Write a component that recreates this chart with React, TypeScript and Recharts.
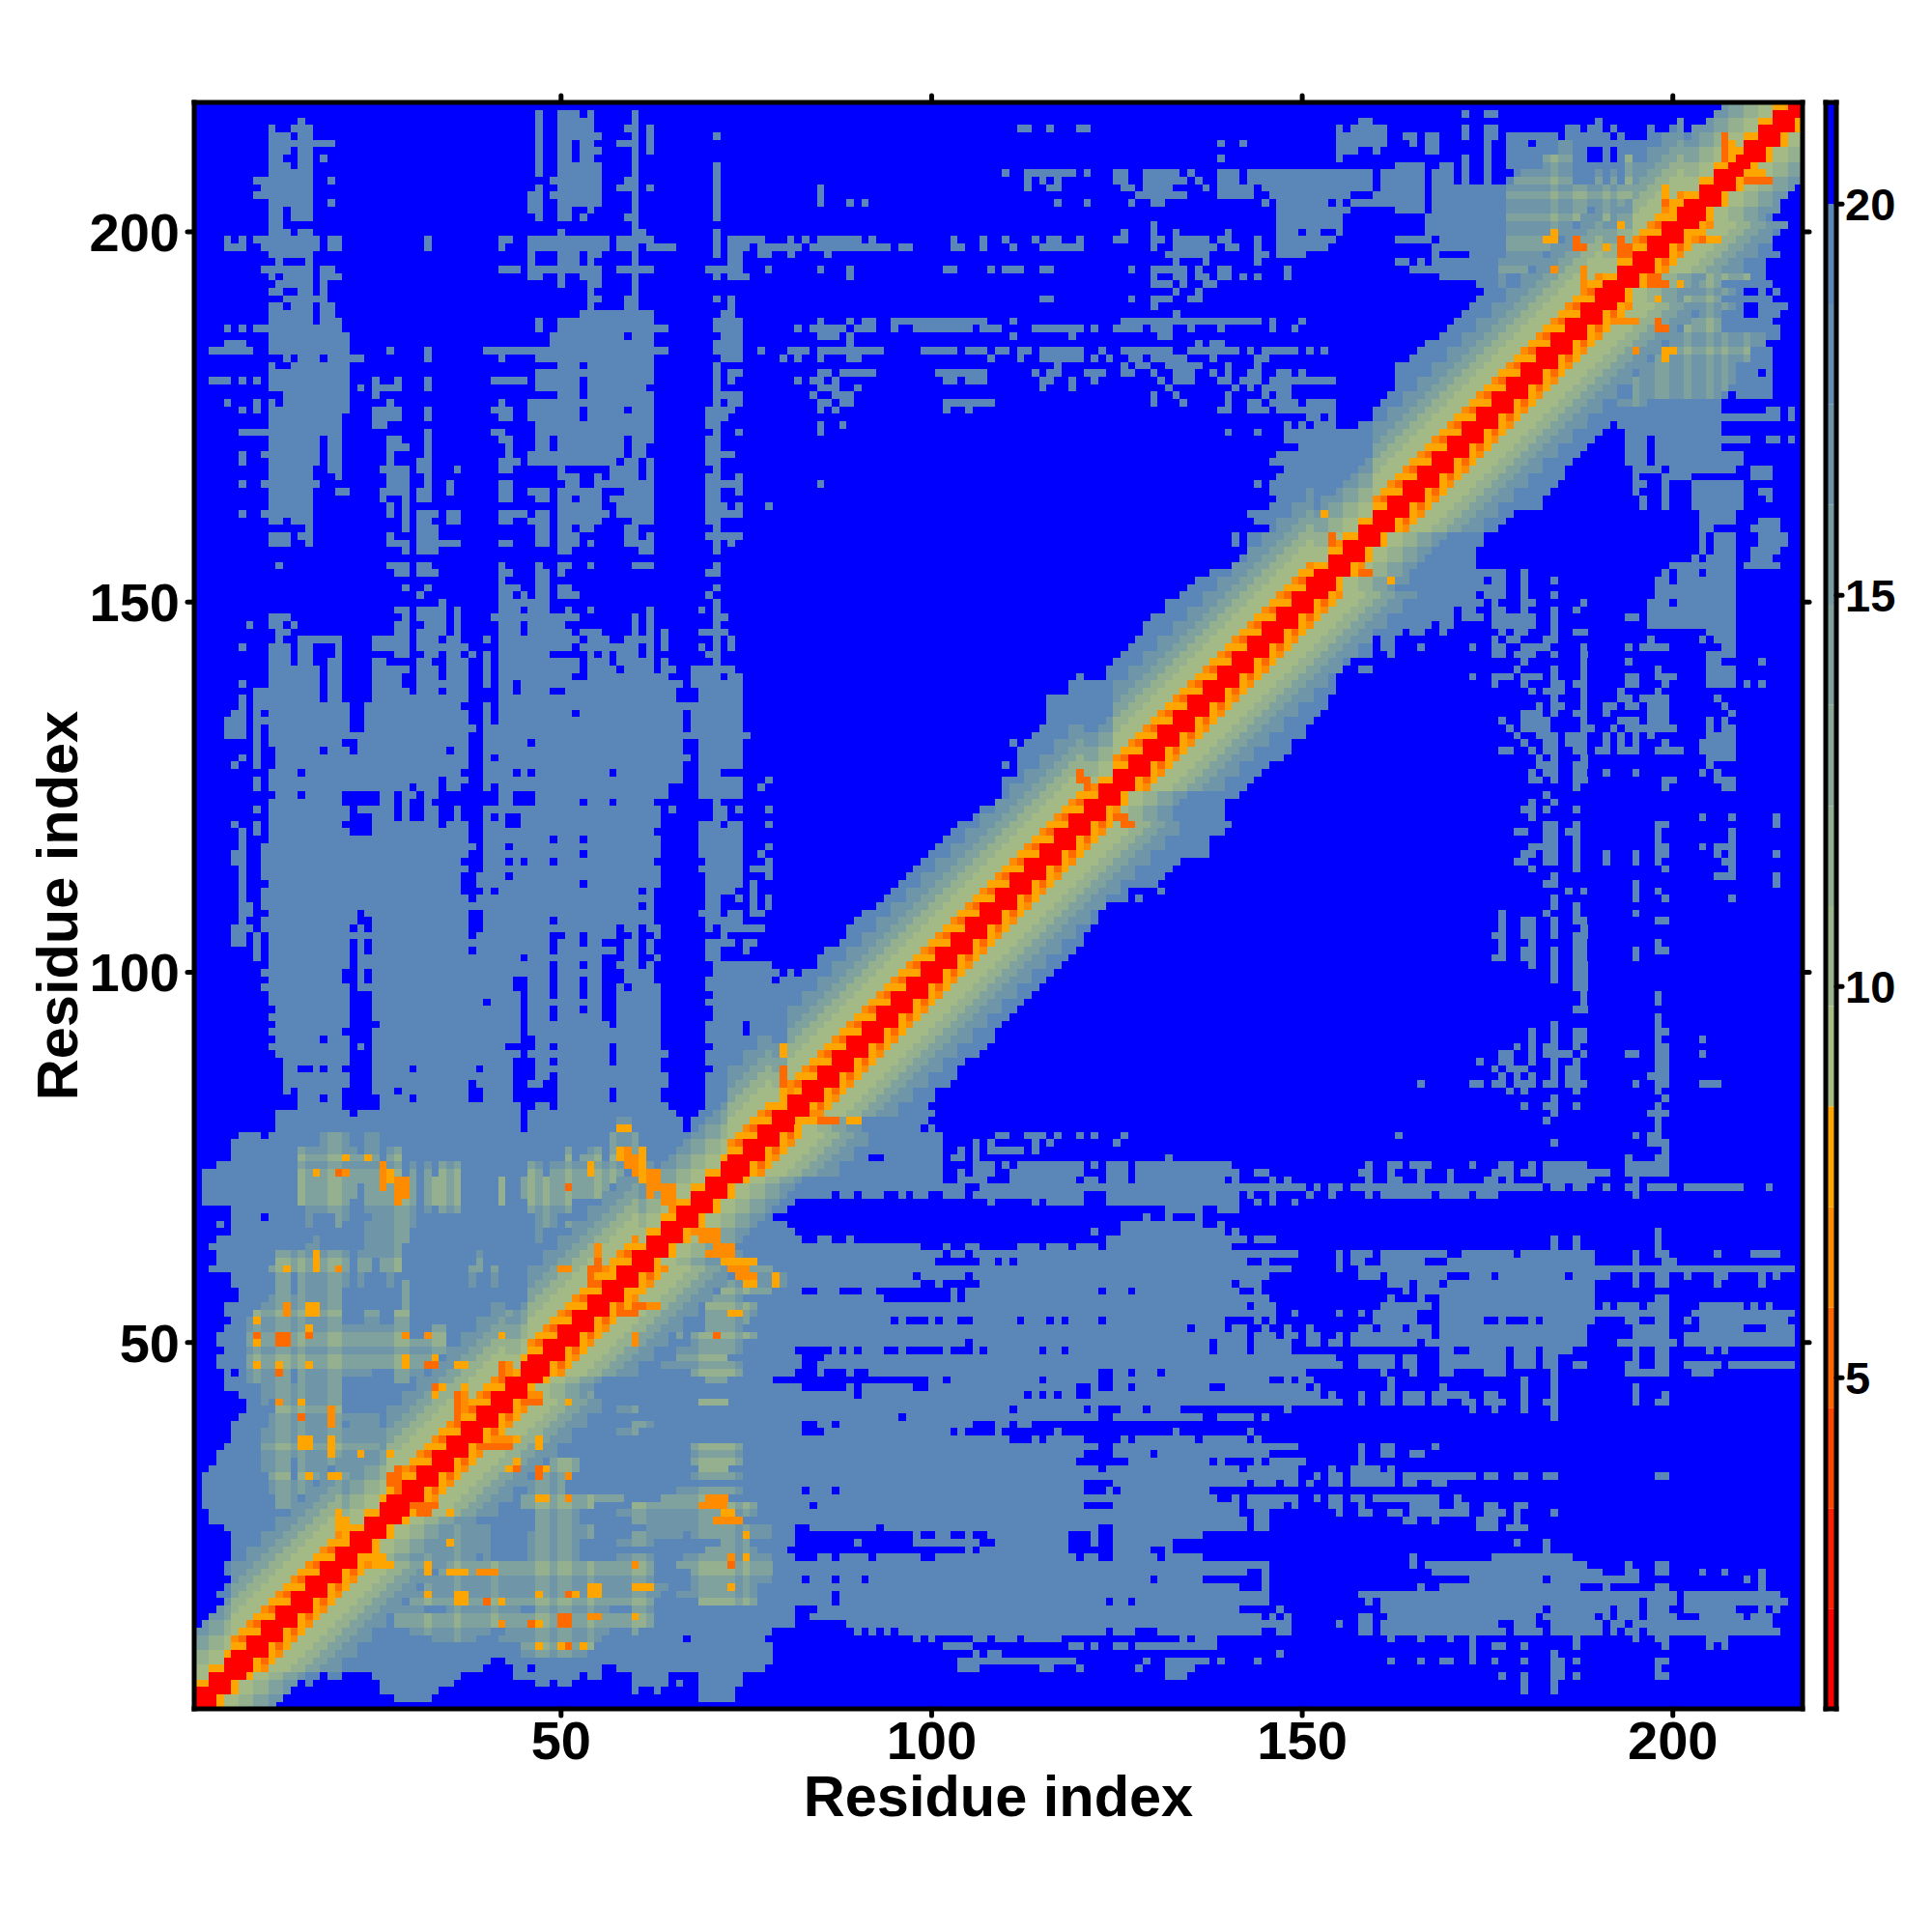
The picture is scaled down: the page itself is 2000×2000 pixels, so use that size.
import { Bar, BarChart, Scatter, ScatterChart, XAxis, YAxis } from "recharts";

const FONT = '"Liberation Sans", Arial, sans-serif';
const RESIDUES = 217;
const CELL = 1664.5 / RESIDUES;

const axisTicks = [50, 100, 150, 200];
const colorbarTicks = [5, 10, 15, 20];

// 0 red .. 3 amber, 4..7 green fading to blue-grey, 8 steel, 9 blue (over 20)
const levelColors = ["#ff0000", "#ff6a00", "#ff8c00", "#ffa500", "#a3ba87", "#95b08f", "#7fa29f", "#6e96a8", "#5b86b8", "#0000ff"];

const colorbarEdges = [0.77, 2.05, 3.33, 4.62, 5.9, 7.18, 8.47, 9.75, 11.03, 12.31, 13.6, 14.88, 16.16, 17.44, 18.72, 20, 21.3];
const colorbarColors = ["#ff0000", "#ff2000", "#ff4500", "#ff6600", "#ff8c00", "#ffa500", "#a5bc85", "#9bb58b", "#92ae91", "#89a897", "#80a19d", "#779aa3", "#6e93a9", "#658daf", "#5c86b5", "#0000ff"];

// profile of a row, going right from the diagonal
const bandProfiles: Record<string, string> = {
  A: "000324445566777",
  B: "003134445566778",
  C: "00034455667",
  D: "00344556677",
};
const bandKinds = [
  "CDCDC", "ABABABABABABABA", "DCDCDC", "ABABABABABABABAB", "CDC", "ABABABABABABABA",
  "DCDCDCDCDCDC", "ABABAB", "CD", "ABABABABABABABABABABABABABABABABABABABAB", "CDCD",
  "ABABABABABABABABABABABABABA", "CDCDCDCD", "ABABABABABABABABABABABABABABABA", "CDCD", "ABABABA", "CDCDCDCDCDCDCDCD",
];

// steel cells per row (x >= row), the matrix is symmetric
const steelRuns = [
  "1-6", "2-7,28-32,69-73", "3-8,26-33,60,63,69-73,180,184", "4-13,16,26-35,47-48,50-51,60-64,66,69-74,180,184",
  "5-14,16-17,19-20,25-36,44-52,54-55,60-64,69-74,132-134,177,180,184-185,187,198-199",
  "6-39,44-45,47-55,58-77,104-106,115-116,120,128,132-135,184-185,198",
  "7-40,43-78,104-119,129,132-137,139,144,162,166,169-170,173,176,180,184-185,187,198-199",
  "8-78,106,108-109,147,173,184",
  "9-78,102-105,119-120,122,125-126,128-138,173,176-177,180,187,199,205,207",
  "10-66,68-77,98,100,106-107,109-111,113-117,134,136-138,162,166,170,173,187,195,198-199,205-207",
  "11-78,90,92,94,96-123,125-127,131-144,147-148,158-159,161-177,179-182,184-190,192,194-195,197-214",
  "12-81,89-148,155,158-159,161-176,179-181,184-190,192-193,195-213",
  "13-81,84-144,146,148,158-159,162-181,183-189,191,193-195,197-200,204-209,211-213",
  "14-81,85-141,147,161-182,184-191,193-195,197-199,202-208,212,214",
  "15-86,88-123,125-126,128-145,159,161-195,197-200,202-215",
  "16-86,88-145,158-200,202-214",
  "17-141,145,166,169-187,191,198-199,212",
  "18-82,84-86,88-90,92-129,131-136,145,173-182,184-195,210,212",
  "19-142,145,168-190,194-195,198-199,204,207,212",
  "20-145,165,167-188,194,198-199",
  "21-81,85-86,88-91,93-98,101-119,121-122,125-130,132-136,165,176-186",
  "22-80,105,107-118,125-129,132,183",
  "23-81,90,98-106,109-118,122,125-132,179,183",
  "24-81,98,101-102,105,108-118,122,125-136",
  "25-81,84-92,94-122,125-142,144-145,174-176,178-180",
  "26-142,144-145,164-165,168,174-176,179",
  "27-141,144-145,155,158-159,162-163,165-172,175-177,179,184",
  "28-83,85-120,125-141,143-147,149,154-155,158,165-168,171-172,175-176,179-180",
  "29-138,141,143-149,152,154-155,157-158,160-168,171",
  "30-82,84-86,88-120,124,126-137",
  "31-120,125-142,144-146,148-149,151,154-155,157-162,164-165,168-169",
  "32-149,152,154-155,157-162,164-173,175-176,179-180,183-184,198-199",
  "33-122,124-141,143-149,154,157-160,162",
  "34-119,127-137,139,144,146-150,158",
  "35-120,125-129,131-145,158,161-162,165-166",
  "36-122,125-149,158,161-162,168",
  "37-110,114,116-120,126,128-135,137-142,144",
  "38-82,86-102,104,109,117,133,143",
  "39-82,85-86,88-105,109-110,112-113",
  "40-95,97-122,125-136,139-143,145,184",
  "41-110,112-120,122,126-128,130-133,148,173,176,180,184",
  "42-155,158,161-162,164-166,168-169,172-173,175-177,180,183-184,195,198-199",
  "43-89,91-112,114,116,118-119,122-152,154,158,161-162,164-166,168-172,175-176,180,184,195,199",
  "44-82,89,91-97,100-119,122,125-126,128-137,140-150,152,162,169,180,184,195",
  "45-78,100-101,103-114,116-122,125-145,148,150-151,162,180,184",
  "46-81,85,89,92-122,125-126,128-130,132-150,161,165,169-170,175-177,184,194-199,203-205",
  "47-82,85-155,158-162,164-165,169-177,179-181,183-184,187-188,194-195,198-199,202-206,208-216",
  "48-82,86-154,158-162,164-165,169-177,179-181,183-184,195,198-199",
  "49-81,87,89,91-93,96,102,106,108-114,116-117,119-137,139-142,144-148,169-170,173-177,179-181,183-186,195,198-199,205,207",
  "50-104,106-137,139-142,144-148,151-152,154-155,157-165,167-188,193-200,202-216",
  "51-142,144-146,148-149,151-152,155,157-167,169-188,195-199,202-216",
  "52-134,136-139,141-142,145,148,151,158-159,161-163,165-167,169-188,195-199,204-209,213-216",
  "53-94,96,100,102-103,106-111,113-115,117,119-122,124-139,144,146,160-165,169-174,177,181,183-189,194-195,198-199,202,204-215",
  "54-146,149,155,158,160-165,169-199,203-216",
  "55-142,144-146,161-167,169-189,191,193-195,197-199,204-209,211,213",
  "56-93,103,105-145,162,166,169-189,198-199",
  "57-82,85-87,91-92,103,105-122,124-126,128-141,144,164,166-189",
  "58-98,101,107-140,142-144,162-164,166-168,170-189,195,198-199,206,212",
  "59-97,99-104,106-145,158-160,162-169,173-175,177-185,187-191,195,198-199,202,206-207,212,214",
  "60-148,155,158-216",
  "61-100,107-108,110,112-142,145,155,157-158,161-166,170-189,195,199-200",
  "62-101,103-104,106-149,155,157-159,161-169,172-178,180-189,195,198-199,206,211-214",
  "63-98,102,105-106,112-114,116-118,120-122,124-140,184,187,198",
  "64-82,85-86,89,124-142,144-146,184,187,198",
  "65-81,122,126-139,141,198",
  "66-80,126-136,139",
  "67-78,129,132,136",
  "68-80,132-136,139-141",
  "69-81,108,114,116-120,124-141,144,146,149",
  "70-86,88-89,91-93,96,98-99,102-104,106-120,124-141,143,146,151,154,159,161-167,169-172,174-176,195",
  "71-104,107-150,152,154-155,157-182,184-185,187-188,191,194-195,197-200,202-209,213",
  "72-101,104-107,111-119,121-122,124-126,128-139,141,146,148,159,162-163,166,170,175-176,178,183-189,195",
  "73-101,104,106-108,111-120,124-126,128-141,144-145,158-159,162,166,170,176-178,180-181,183-191,194-199",
  "74-101,106-108,110,112-120,122,124-126,128-140,159,162-163,165-167,173,177-178,181,183-188,194-199",
  "75-88,90-91,94-101,103-104,106,132,194,198-199",
  "76-101,104,106,108-112,114,199",
  "77-101,106,108,114,116,125,184,197-199",
  "78-101,109-110,113-115,117,120,122,126,163,195,197-198",
  "79-98,100,198", "80-99,183,198", "81-100,184,197-199", "82-99,180,183-184,187,198", "83-100,184,199", "84-100,178,180,187,198",
  "85-102,166,173-174,176-177,179-181,183-184,186-188,195,198-199,204-206",
  "86-103,177,179,181,184,186-187,197-199",
  "87-103,176,178-180,184,186-187,198-199",
  "88-104,174,177-178,181,184,187,198-199",
  "89-106,177-178,181,183-186,188,194-195,198-199,204",
  "90-107,179,181,183-184,187,198-199",
  "91-108,181,184,187-188,198,204",
  "92-108,181,184,187-188,198-199",
  "93-109,184,198", "94-110,198", "95-111,187-188", "96-112,188,198", "97-113,188,198", "98-114,187-188",
  "99-115,184,187-188", "100-116,184,187-188", "101-117,181,184,187-188",
  "102-118,176-177,180-181,184,187-188,195",
  "103-119,177,180-181,184,187-188,195,198-199",
  "104-120,177,181,187-188,198",
  "105-120,176-177,180-181,184,187-188",
  "106-121,177,180-181,184,188",
  "107-122,177,180-181,184,187-188,198-199",
  "108-122,177,183,187,195", "109-122,184,187",
  "110-126,128,184,195,199,208", "111-126,131,186,188,195,198", "112-130,183-184,195,214", "113-131,184,206-208,214",
  "114-132,181,187,199,208",
  "115-133,179-180,183-184,187,191,195,198,207-208",
  "116-137,180-181,183-184,187,191,195,198-199,206,208,214",
  "117-137,181-184,187,198-199,204,206-208",
  "118-137,183-184,187,198,208",
  "119-139,179-180,183-184,186-187,198,208",
  "120-140,183-184,187,198-199,214",
  "121-139,181,204,208,214", "122-139,180-181,183,187", "123-139,181,184", "124-141,183", "125-142,187,199,207-208",
  "126-143,181-182,184,187-188,199-200,206-208",
  "127-144,181,183-184,187-188,191,195,204,206",
  "128-145,182-184,187-188,205",
  "129-147,182,184,188,205-208",
  "130-148,177-178,181,183-184,187-188,190-191,193-195,198-201,204-208",
  "131-148,180,183-184,186-188,191,193,195,199,204-208",
  "132-150,179,182-184,186-188,191,193,195,197,205-208",
  "133-150,178,180-183,188-189,192,194-200,205,207-208",
  "134-151,177,180-183,188,193-195,197-199,205,207",
  "135-152,180-182,184,187-188,191,197-199,208",
  "136-153,182,184-185,188,191-192,194-195,197-199,207",
  "137-153,184,188,193-194,196-199,206",
  "138-154,181,183-185,188,193,198",
  "139-154,176,180,184-185,187-188,194-195,199,205-208,210,212",
  "140-154,173,176-178,180-182,184,188,194-195,198-200,205-208",
  "141-154,158-159,179,184,188,198,205-208",
  "142-154,180,188,194,205-206,212",
  "143-155,158-159,162,176-177,179-181,184,188,205-208",
  "144-159,161-162,166,173,176-177,180-183,188,194,196-199,207-208",
  "145-159,161-162,176,178-179,183-184,197,204,206-208",
  "146-163,165-166,169,177,179-180,184,187-188,205-208",
  "147-167,169-170,176-181,184,197-208",
  "148-170,172-174,176-181,184,194-195,197-208",
  "149-170,172-173,176-177,180,184,187,197-208",
  "150-174,176,180-181,188,197-199,201-208",
  "151-173,175-177,180,184,198-208",
  "152-177,180,198-208",
  "153-174,176-177,180,184,198-199,201-208",
  "154-177,180,199,201-203,205-208",
  "155-173,200-208,210-214",
  "156-173,203,205-208,211-213",
  "157-173,204,206-208,211-214",
  "158-174,204,206-208,212-215",
  "159-174,204,206-208,212-215",
  "160-176,204-205,211-214",
  "161-177,204-208,212-214",
  "162-178,204-208",
  "163-182,196,199,203-209",
  "164-182,196,199,203-209,213",
  "165-183,195,199,203-209,212-213",
  "166-184,195-196,199,203-209",
  "167-185,195,199-202,211-213",
  "168-185,195-198,200-208,211-213",
  "169-186,194-196,198-209",
  "170-187,194-196,198-209",
  "171-188,194-196,198-206",
  "172-189,194-196,198-210,213-214,216",
  "173-190,194-206", "174-191,193-206", "175-214,216", "176-206,213-214,216", "177-206",
  "178-207,209-213", "179-206,208-213", "180-206,209-213", "181-207,209-211,213", "182-213", "183-213", "184-213",
  "185-212", "186-214", "187-214", "188-213", "189-209,212-214", "190-209,212-215", "191-213", "192-209,212,214",
  "193-213", "194-212", "195-212", "196-209,211-212", "197-214", "198-213", "199-213", "200-213", "201-214",
  "202-213", "203-213", "204-212", "205-212", "206-212", "207-212,216", "208-217", "209-217", "210-217", "211-217",
  "212-217", "213-217", "214-217", "215-217", "216-217", "217",
];

// pale patches inside the two folded blocks, "row:from-to,..."
const paleRuns = [
  "8:45-53", "9:45-54", "10:33-38,42-55", "11:30-40,43-56,60", "12:28-62", "13:27-62", "14:25-31,35-44,47-56,60-62",
  "15:22-62,69-76", "16:22-63,66-76", "17:20-64,68-76", "18:20-62,68-78", "19:18-62,68-78", "20:17-62,66-78",
  "21:16-38,40,46-52,58-62,67-78", "22:17-24,32-40,46-52,70-76", "23:19-26,31-40,46-52,58-62,72-75",
  "24:20-26,30-40,46-54,60-66,68-78", "25:21-27,32-40,47-54,62-78", "26:22-28,33-38,47-52,60-72", "27:23-34,47-52,58-76",
  "28:24-36,45-54,60-76", "29:25-40,45-58,64-70", "30:26-34,40-42,46-50,66-74", "31:27-34,40-42,46-50",
  "32:27-35,40-50,68-74", "33:28-38,41-52,69-72", "34:28-38,40-52,68-74", "35:29-36,42-48,68-74", "36:30-50,68-74",
  "37:32-48", "38:34-44,58-60", "39:36-44,60-62", "40:38-44", "41:41-50,58-60", "42:43-52,69-72", "43:44-54", "44:44-52",
  "45:45-50,70-72", "46:46-50,68-74", "47:47-60,64-74", "48:48-62,66-72", "49:49-62,66-74", "50:50-64,68-74",
  "51:51-66,68-76", "52:52-66,70-74", "53:53-66,70-75", "54:54-66,70-76", "55:55-64,68-76", "56:56-64,70-74",
  "57:57-62,72-78", "58:58-64,72-80", "59:59-62,69-80", "60:60-62,66-78", "61:61-66,68-76", "62:62-66,68-74",
  "77:79-90", "78:79-90", "79:80-90", "80:81-90", "118:124-128", "119:125-130", "120:124-131", "121:125-132",
  "151:155-160", "152:156-162", "153:157-164", "154:158-164",
  "177:193-196", "178:195-206", "179:195-207", "180:193-208", "181:194-208", "182:194-208", "183:193-210", "184:192-210",
  "185:193-212", "186:192-212", "187:192-206", "188:193-206", "189:194-206", "190:196-208", "191:196-206", "192:197-208",
  "193:198-206", "194:199-210", "195:199-208", "196:200-210", "197:201-210", "198:202-210", "199:203-212", "200:204-212",
  "201:204-213", "202:205-212", "203:206-214", "204:206-212", "205:208-214", "206:209-215", "207:209-215", "208:209-216",
  "209:210-217", "210:211-217", "211:212-217", "212:213-217",
];

// rows and columns where the pale patches run brighter
const paleStreakRows = [9, 12, 13, 15, 19, 20, 28, 29, 33, 34, 36, 42, 46, 48, 51, 55, 57, 60, 61, 184, 187, 188, 191, 193, 194, 198, 199, 200, 206];
const paleStreakColumns = [32, 36, 41, 47, 48, 50, 51, 54, 60, 61, 69, 70, 71, 72, 73, 75, 195, 198, 199, 202, 205, 207, 210, 213];

// orange contacts off the diagonal, "row:from-to:level"
const contactSpots = [
  "9:47:3", "9:50:3", "9:51:1", "9:53:3", "12:42:2", "12:46:1", "12:47:3", "12:50:1", "12:51:1", "13:50:1", "13:51:1", "13:54-55:2",
  "13:60:3", "15:36-37:3", "15:40:1", "15:42:3", "16:32:3", "16:36-37:3", "16:47:3", "16:51:1", "16:52:3", "16:54-55:3", "17:54-55:3",
  "17:60-62:3", "17:73:3", "19:32:3", "19:35-37:3", "19:39-41:2", "20:25-27:3", "20:32:3", "20:60:2", "20:73:1", "21:24-26:3",
  "21:73:2", "21:75:3", "23:35:3", "24:75:3", "26:71-74:2", "27:31-32:1", "27:35:3", "27:72-73:3", "28:30-33:1", "28:69-72:2",
  "29:47-48:3", "29:51:2", "29:70-72:2", "32:47:1", "32:51:2", "33:43:3", "33:44:1", "33:47:1", "33:48:3", "34:44:3", "36:39-43:1",
  "36:47:3", "37:41-42:2", "37:43:2", "37:44:3", "37:47:3", "42:46-47:1", "42:51:3", "43:46-47:2", "50:60:2", "51:60:2", "51:71:1",
  "54:58-60:1", "54:73-74:3", "55:60-61:1", "55:62-63:2", "57:59-60:3", "58:75-76:3", "58:79:3", "59:74-76:2", "59:79:3", "60:73-75:2",
  "61:72-76:3", "62:70-73:2", "63:71-73:2", "64:69-71:2", "65:68-71:2", "80:83-84:3", "80:85-87:1", "80:89-90:3", "81:84-85:2",
  "120:126-127:1", "121:125-126:1", "122:125:2", "153:162:3", "154:158-159:1", "155:158:2",
  "183:199:3", "184:195:2", "184:199-200:3", "187:198-199:1", "188:193-195:2", "188:198:1", "191:198:3", "193:197-199:1", "193:201:3",
  "194:197-198:1", "199:204:1", "199:205-206:3", "200:203:3", "207:210-211:1", "207:212-213:1", "208:210-212:3",
];

function parseRun(text: string) {
  const [a, b] = text.split("-").map(Number);
  return [a, b === undefined ? a : b];
}

function buildRuns() {
  const grid: number[][] = [];
  for (let r = 0; r <= RESIDUES; r++) grid.push(new Array(RESIDUES + 1).fill(9));
  const put = (r: number, c: number, level: number) => {
    if (c <= RESIDUES && r <= RESIDUES) grid[r][c] = level;
  };
  steelRuns.forEach((row, i) => {
    row.split(",").forEach((run) => {
      const [a, b] = parseRun(run);
      for (let c = a; c <= b; c++) put(i + 1, c, 8);
    });
  });
  paleRuns.forEach((entry) => {
    const [row, runs] = entry.split(":");
    const r = Number(row);
    runs.split(",").forEach((run) => {
      const [a, b] = parseRun(run);
      for (let c = a; c <= b; c++) {
        const hits = (paleStreakRows.includes(r) ? 1 : 0) + (paleStreakColumns.includes(c) ? 1 : 0);
        put(r, c, hits === 2 ? 5 : hits === 1 ? 6 : 7);
      }
    });
  });
  bandKinds.join("").split("").forEach((kind, i) => {
    bandProfiles[kind].split("").forEach((digit, d) => put(i + 1, i + 1 + d, Number(digit)));
  });
  contactSpots.forEach((entry) => {
    const [row, run, level] = entry.split(":");
    const [a, b] = parseRun(run);
    for (let c = a; c <= b; c++) put(Number(row), c, Number(level));
  });
  // lower triangle is the mirror of the upper one
  for (let r = 1; r <= RESIDUES; r++) for (let c = r + 1; c <= RESIDUES; c++) grid[c][r] = grid[r][c];

  const runs: { x: number; y: number; len: number; level: number }[] = [];
  for (let r = 1; r <= RESIDUES; r++) {
    let start = 1;
    for (let c = 2; c <= RESIDUES + 1; c++) {
      if (c > RESIDUES || grid[r][c] !== grid[r][start]) {
        runs.push({ x: (start + c - 1) / 2, y: r, len: c - start, level: grid[r][start] });
        start = c;
      }
    }
  }
  return runs;
}

const cellRuns = buildRuns();
const frameMarks = axisTicks.map((t) => ({ x: t, y: t }));

function RunCell(props: any) {
  const { cx, cy, payload } = props;
  const w = payload.len * CELL;
  return (
    <rect x={cx - w / 2} y={cy - CELL / 2} width={w + 0.4} height={CELL + 0.4} fill={levelColors[payload.level]} shapeRendering="crispEdges" />
  );
}

const NoMark = () => null;

const colorbarRow: Record<string, number | string> = { name: "bar" };
colorbarColors.forEach((_, i) => {
  colorbarRow["s" + i] = i === 0 ? colorbarEdges[1] : +(colorbarEdges[i + 1] - colorbarEdges[i]).toFixed(2);
});

const edgeLine = { stroke: "#000", strokeWidth: 5, strokeLinecap: "square" as const };
const tickLine = { stroke: "#000", strokeWidth: 5, strokeLinecap: "round" as const };
const bigTick = { fill: "#000", fontSize: 56, fontWeight: 700, fontFamily: FONT };
const titleStyle = { fill: "#000", fontSize: 59.5, fontWeight: 700, fontFamily: FONT };
const hiddenTick = { fill: "transparent", fontSize: 1 };
const layer = { position: "absolute" as const, left: 0, top: 0 };

export default function App() {
  return (
    <div style={{ position: "absolute", left: 0, top: 0, width: 2000, height: 2000, background: "#fff" }}>
      {/* cells below, the frame and ticks go in a chart on top so the cells don't cover them */}
      <div style={layer}>
        <ScatterChart width={2000} height={2000} margin={{ top: 106, right: 134, bottom: 231, left: 201 }}>
          <XAxis type="number" dataKey="x" domain={[0.5, 217.5]} hide />
          <YAxis type="number" dataKey="y" domain={[0.5, 217.5]} hide />
          <Scatter data={cellRuns} shape={RunCell} isAnimationActive={false} />
        </ScatterChart>
      </div>
      <div style={layer}>
        <ScatterChart width={2000} height={2000} margin={{ top: 96, right: 124, bottom: 171, left: 101 }}>
          <XAxis
            xAxisId="bottom"
            type="number"
            dataKey="x"
            domain={[0.5, 217.5]}
            ticks={axisTicks}
            height={60}
            axisLine={edgeLine}
            tickLine={tickLine}
            tickSize={7}
            tickMargin={5}
            tick={bigTick}
            label={{ value: "Residue index", position: "insideBottom", offset: -51, style: titleStyle }}
          />
          <XAxis
            xAxisId="top"
            orientation="top"
            type="number"
            dataKey="x"
            domain={[0.5, 217.5]}
            ticks={axisTicks}
            height={10}
            axisLine={edgeLine}
            tickLine={tickLine}
            tickSize={7}
            tick={hiddenTick}
          />
          <YAxis
            yAxisId="left"
            type="number"
            dataKey="y"
            domain={[0.5, 217.5]}
            ticks={axisTicks}
            width={100}
            axisLine={edgeLine}
            tickLine={tickLine}
            tickSize={7}
            tickMargin={8}
            tick={bigTick}
            label={{ value: "Residue index", angle: -90, position: "insideLeft", offset: -42, style: { ...titleStyle, textAnchor: "middle" } }}
          />
          <YAxis
            yAxisId="right"
            orientation="right"
            type="number"
            dataKey="y"
            domain={[0.5, 217.5]}
            ticks={axisTicks}
            width={10}
            axisLine={edgeLine}
            tickLine={tickLine}
            tickSize={7}
            tick={hiddenTick}
          />
          <Scatter xAxisId="bottom" yAxisId="left" data={frameMarks} shape={NoMark} isAnimationActive={false} />
          <Scatter xAxisId="top" yAxisId="right" data={frameMarks} shape={NoMark} isAnimationActive={false} />
        </ScatterChart>
      </div>
      <div style={{ position: "absolute", left: 1800, top: 0 }}>
        <BarChart width={200} height={2000} data={[colorbarRow]} margin={{ top: 106, right: 99, bottom: 231, left: 90 }} barCategoryGap={0}>
          <XAxis dataKey="name" hide />
          <YAxis type="number" domain={[0.77, 21.3]} allowDataOverflow hide />
          {colorbarColors.map((color, i) => (
            <Bar key={i} dataKey={"s" + i} stackId="c" fill={color} isAnimationActive={false} />
          ))}
        </BarChart>
      </div>
      <div style={{ position: "absolute", left: 1800, top: 0 }}>
        <BarChart width={200} height={2000} data={[colorbarRow]} margin={{ top: 96, right: 9, bottom: 221, left: 80 }} barCategoryGap={0}>
          <XAxis xAxisId="b" dataKey="name" height={10} tick={false} tickLine={false} axisLine={edgeLine} />
          <XAxis xAxisId="t" dataKey="name" orientation="top" height={10} tick={false} tickLine={false} axisLine={edgeLine} />
          <YAxis yAxisId="l" type="number" domain={[0.77, 21.3]} allowDataOverflow width={10} ticks={colorbarTicks} tick={false} tickLine={false} axisLine={edgeLine} />
          <YAxis
            yAxisId="r"
            orientation="right"
            type="number"
            domain={[0.77, 21.3]}
            allowDataOverflow
            width={90}
            ticks={colorbarTicks}
            axisLine={edgeLine}
            tickLine={tickLine}
            tickSize={6}
            tickMargin={3}
            tick={{ fill: "#000", fontSize: 47, fontWeight: 700, fontFamily: FONT }}
          />
          <Bar xAxisId="b" yAxisId="l" dataKey="s0" fill="none" isAnimationActive={false} />
          <Bar xAxisId="t" yAxisId="r" dataKey="s0" fill="none" isAnimationActive={false} />
        </BarChart>
      </div>
    </div>
  );
}
